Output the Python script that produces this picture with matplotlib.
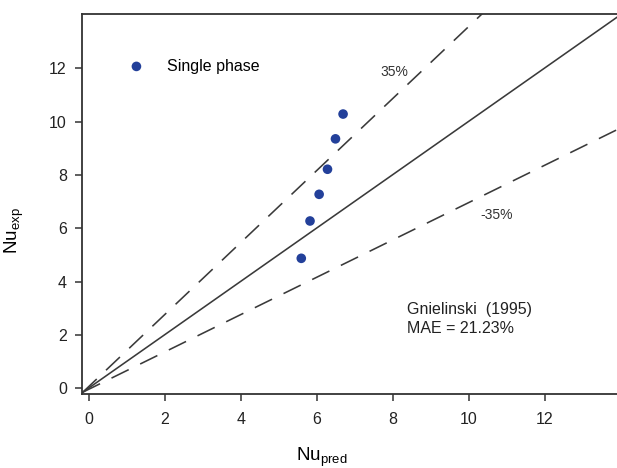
#!/usr/bin/env python3

import matplotlib
matplotlib.use("Agg")
import matplotlib.pyplot as plt
import numpy as np

# single phase data points (Nu_pred, Nu_exp)
nu_pred = [5.59, 5.82, 6.06, 6.28, 6.49, 6.69]
nu_exp = [4.87, 6.27, 7.27, 8.21, 9.35, 10.28]

upper_slope = 1.35
lower_slope = 0.70

x_ticks = [0, 2, 4, 6, 8, 10, 12]
y_ticks = [0, 2, 4, 6, 8, 10, 12]

LINE = "#3a3a3a"
DOT = "#23409a"

plt.rcParams.update(
    {
        "font.family": ["Liberation Sans", "DejaVu Sans"],
        "font.size": 11.5,
        "axes.edgecolor": "#333333",
        "axes.linewidth": 1.3,
        "xtick.color": "#333333",
        "ytick.color": "#333333",
        "xtick.labelcolor": "#222222",
        "ytick.labelcolor": "#222222",
    }
)

fig = plt.figure(figsize=(6.17, 4.68), dpi=100)
ax = fig.add_axes([0.133, 0.158, 0.867, 0.812])

# parity lines meet near the lower-left corner of the axes
x0, y0 = -0.16, -0.15
xs = np.array([0.0, 20.0])
ax.plot(x0 + xs, y0 + xs, color=LINE, lw=1.15, zorder=2)
ax.plot(x0 + xs, y0 + upper_slope * xs, color=LINE, lw=1.15, dashes=(12, 8), zorder=2)
ax.plot(x0 + xs, y0 + lower_slope * xs, color=LINE, lw=1.15, dashes=(12, 8), zorder=2)

ax.scatter(nu_pred, nu_exp, s=48, color=DOT, edgecolor="none", zorder=3, label="Single phase")

ax.text(8.05, 11.86, "35%", fontsize=10, color="#333333", ha="center", va="center")
ax.text(10.74, 6.49, "-35%", fontsize=10, color="#333333", ha="center", va="center")
ax.text(8.37, 2.96, "Gnielinski  (1995)", fontsize=11.5, color="#222222", va="center")
ax.text(8.37, 2.25, "MAE = 21.23%", fontsize=11.5, color="#222222", va="center")

ax.legend(
    loc="center left",
    bbox_to_anchor=(0.0897, 0.863),
    frameon=False,
    borderaxespad=0,
    borderpad=0,
    handlelength=0.8,
    handletextpad=1.5,
    fontsize=11.5,
)

ax.set_xlim(-0.18, 13.9)
ax.set_ylim(-0.22, 14.03)
ax.set_xticks(x_ticks)
ax.set_yticks(y_ticks)
ax.tick_params(direction="out", length=5, width=1.1)
ax.tick_params(axis="x", pad=8)
ax.tick_params(axis="y", pad=6)
ax.spines["right"].set_visible(False)

ax.set_xlabel("Nu$_{\\mathregular{pred}}$", fontsize=13.5)
ax.set_ylabel("Nu$_{\\mathregular{exp}}$", fontsize=13.5)
ax.xaxis.set_label_coords(0.449, -0.135)
ax.yaxis.set_label_coords(-0.105, 0.43)

fig.savefig("out.png", dpi=100)
